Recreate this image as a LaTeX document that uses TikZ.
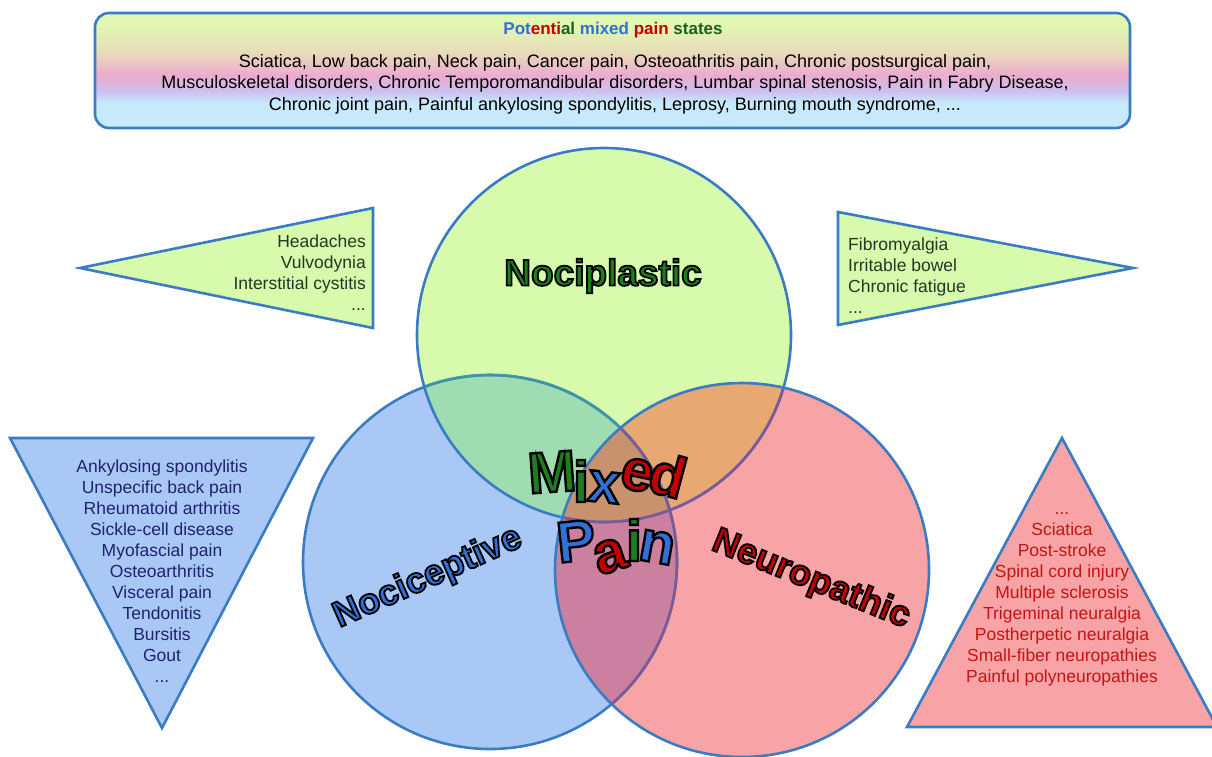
\documentclass[tikz,border=0pt]{standalone}
\usepackage{fontspec}
\setmainfont{Liberation Sans}
\newfontfamily\mixfont{Liberation Sans}

\definecolor{edgeblue}{RGB}{58,124,196}
\definecolor{tealedge}{RGB}{60,150,165}
\definecolor{plumedge}{RGB}{128,88,150}
\definecolor{limefill}{RGB}{216,250,172}
\definecolor{skyfill}{RGB}{170,200,245}
\definecolor{rosefill}{RGB}{248,164,166}
\definecolor{mintfill}{RGB}{160,220,178}
\definecolor{amberfill}{RGB}{232,168,114}
\definecolor{mauvefill}{RGB}{204,128,160}
\definecolor{umberfill}{RGB}{200,146,110}
\definecolor{boxlime}{RGB}{226,248,178}
\definecolor{boxtan}{RGB}{232,220,185}
\definecolor{boxpink}{RGB}{236,172,205}
\definecolor{boxlilac}{RGB}{205,192,240}
\definecolor{boxsky}{RGB}{198,234,250}
\definecolor{leafgreen}{RGB}{30,125,30}
\definecolor{deepgreen}{RGB}{30,95,30}
\definecolor{labelblue}{RGB}{48,112,215}
\definecolor{labelred}{RGB}{195,0,0}
\definecolor{navytext}{RGB}{30,35,110}
\definecolor{redtext}{RGB}{195,20,20}
\definecolor{greentext}{RGB}{35,55,35}

\pgfdeclareverticalshading{bandshade}{100bp}{color(0bp)=(boxsky); color(36bp)=(boxsky);
  color(41bp)=(boxlilac); color(48bp)=(boxpink); color(58bp)=(boxtan); color(70bp)=(boxlime); color(100bp)=(boxlime)}

\newcommand{\rimtext}[3]{\textcolor{#2}{\special{pdf:literal direct 2 Tr #1 w 0 0 0 RG}#3\special{pdf:literal direct 0 Tr}}}

\tikzset{
  rim/.style={draw=edgeblue, line width=2.6pt},
  listtext/.style={font=\fontsize{17.5}{21}\selectfont, inner sep=0pt},
  bigword/.style={font=\fontsize{36}{40}\selectfont\bfseries, inner sep=0pt},
  mixletter/.style={font=\mixfont\fontsize{58}{60}\selectfont\bfseries, inner sep=0pt}
}

\begin{document}
\begin{tikzpicture}[x=1pt,y=-1pt]
\useasboundingbox (0,0) rectangle (1212,756);

\shade[shading=bandshade, rounded corners=14pt] (95,13) rectangle (1130,128);
\draw[rim, rounded corners=14pt] (95,13) rectangle (1130,128);
\node[font=\fontsize{17}{20}\selectfont\bfseries] (toptitle) at (613,30)
  {\textcolor{labelblue}{Pot}\textcolor{labelred}{enti}\textcolor{deepgreen}{al}
  \textcolor{labelblue}{mixed} \textcolor{labelred}{pain} \textcolor{deepgreen}{states}};
\node[align=center, inner sep=0pt, font=\fontsize{18}{21.5}\selectfont] (toplist) at (615,84)
  {Sciatica, Low back pain, Neck pain, Cancer pain, Osteoathritis pain, Chronic postsurgical pain,\\
  Musculoskeletal disorders, Chronic Temporomandibular disorders, Lumbar spinal stenosis, Pain in Fabry Disease,\\
  Chronic joint pain, Painful ankylosing spondylitis, Leprosy, Burning mouth syndrome, ...};

\coordinate (ceptive) at (490,562);
\coordinate (plastic) at (604,335);
\coordinate (pathic) at (742,570);

\fill[skyfill] (ceptive) circle (187pt);
\fill[limefill] (plastic) circle (187pt);
\fill[rosefill] (pathic) circle (187pt);
\begin{scope}
\clip (plastic) circle (187pt);
\fill[mintfill] (ceptive) circle (187pt);
\fill[amberfill] (pathic) circle (187pt);
\end{scope}
\begin{scope}
\clip (ceptive) circle (187pt);
\fill[mauvefill] (pathic) circle (187pt);
\clip (plastic) circle (187pt);
\fill[umberfill] (pathic) circle (187pt);
\end{scope}

\draw[rim] (ceptive) circle (187pt);
\begin{scope}
\clip (plastic) circle (187pt);
\draw[rim, draw=tealedge] (ceptive) circle (187pt);
\end{scope}
\draw[rim] (plastic) circle (187pt);
\begin{scope}
\clip (pathic) circle (187pt);
\draw[rim, draw=plumedge] (ceptive) circle (187pt);
\draw[rim, draw=plumedge] (plastic) circle (187pt);
\end{scope}
\draw[rim] (pathic) circle (187pt);

\node[bigword, font=\fontsize{37}{40}\selectfont\bfseries] (plasticlabel) at (603,276) {\rimtext{1.8}{leafgreen}{Nociplastic}};
\node[bigword, rotate=24] (ceptivelabel) at (428,578) {\rimtext{1.8}{labelblue}{Nociceptive}};
\node[bigword, rotate=-22] (pathiclabel) at (811,580) {\rimtext{1.8}{labelred}{Neuropathic}};

\node[mixletter, rotate=4] (mixM) at (552,472) {\rimtext{2.4}{leafgreen}{M}};
\node[mixletter] (mixI) at (581,481) {\rimtext{2.4}{leafgreen}{i}};
\node[mixletter, rotate=-6] (mixX) at (604,487) {\rimtext{2.4}{labelblue}{x}};
\node[mixletter, rotate=-12] (mixE) at (637,475) {\rimtext{2.4}{labelred}{e}};
\node[mixletter, rotate=-15] (mixD) at (668,475) {\rimtext{2.4}{labelred}{d}};
\node[mixletter, rotate=6] (painP) at (576,541) {\rimtext{2.4}{labelblue}{P}};
\node[mixletter, rotate=18] (painA) at (610,556) {\rimtext{2.4}{labelred}{a}};
\node[mixletter] (painI) at (634,540) {\rimtext{2.4}{leafgreen}{i}};
\node[mixletter, rotate=-10] (painN) at (657,547) {\rimtext{2.4}{labelblue}{n}};

\filldraw[rim, fill=limefill] (80,268) -- (373,208) -- (373,328) -- cycle;
\node[listtext, anchor=east, align=right, text=greentext] (plasticleft) at (366,273)
  {Headaches\\Vulvodynia\\Interstitial cystitis\\...};
\filldraw[rim, fill=limefill] (838,212) -- (1133,268) -- (838,325) -- cycle;
\node[listtext, anchor=west, align=left, text=greentext] (plasticright) at (848,276)
  {Fibromyalgia\\Irritable bowel\\Chronic fatigue\\...};

\filldraw[rim, fill=skyfill] (10,438) -- (313,438) -- (162,728) -- cycle;
\node[listtext, align=center, text=navytext] (ceptivelist) at (162,571)
  {Ankylosing spondylitis\\Unspecific back pain\\Rheumatoid arthritis\\Sickle-cell disease\\Myofascial pain\\Osteoarthritis\\Visceral pain\\Tendonitis\\Bursitis\\Gout\\...};

\filldraw[rim, fill=rosefill] (1062,438) -- (1217,727) -- (907,727) -- cycle;
\node[listtext, align=center, text=redtext] (pathiclist) at (1062,599)
  {...\\Sciatica\\Post-stroke\\Spinal cord injury\\Multiple sclerosis\\Trigeminal neuralgia\\Postherpetic neuralgia\\Small-fiber neuropathies\\Painful polyneuropathies};
\end{tikzpicture}
\end{document}
